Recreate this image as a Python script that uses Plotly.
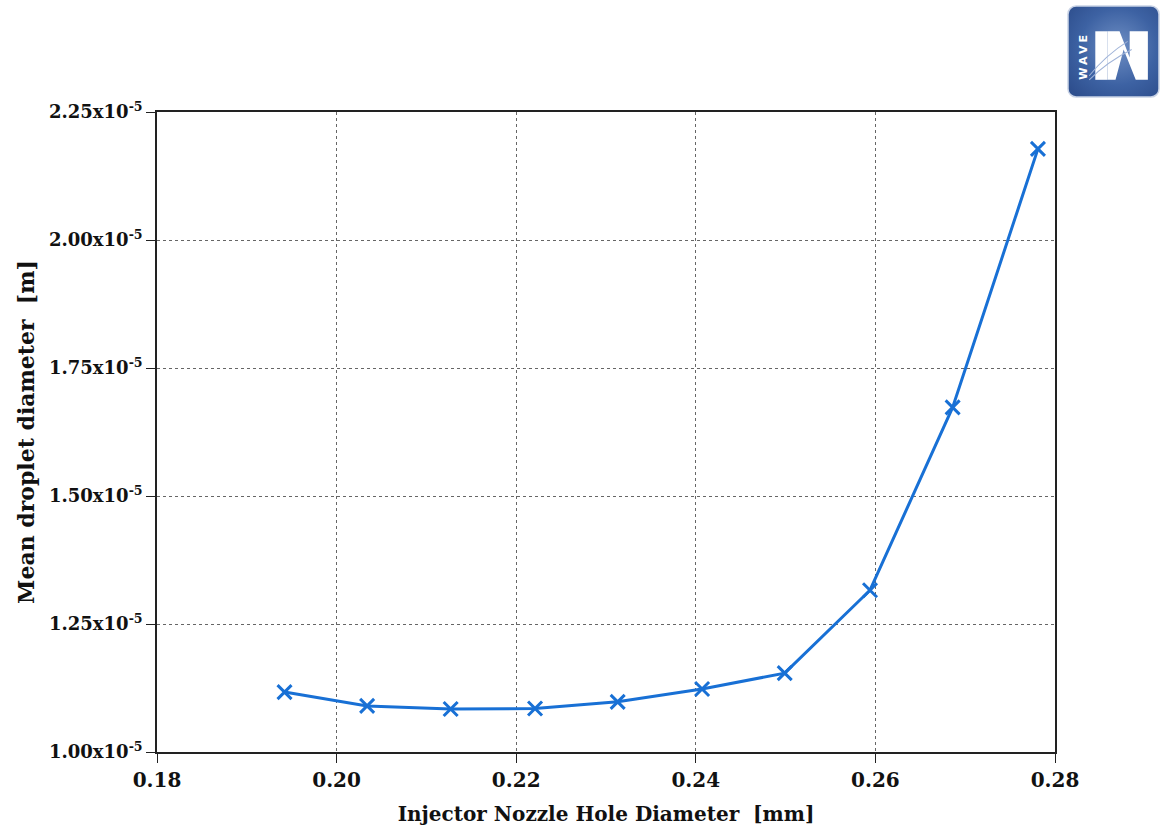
import base64
import plotly.graph_objects as go

# Injector nozzle hole diameter [mm] vs. mean droplet diameter [m]
nozzle_diameter_mm = [0.1942, 0.2034, 0.2127, 0.2221, 0.2313, 0.2407, 0.2499, 0.2594, 0.2686, 0.2781]
mean_droplet_m = [1.117e-5, 1.090e-5, 1.084e-5, 1.085e-5, 1.098e-5, 1.123e-5, 1.154e-5,
                  1.316e-5, 1.673e-5, 2.178e-5]

x_ticks = [0.18, 0.20, 0.22, 0.24, 0.26, 0.28]
x_tick_text = ["0.18", "0.20", "0.22", "0.24", "0.26", "0.28"]
y_ticks = [1.00e-5, 1.25e-5, 1.50e-5, 1.75e-5, 2.00e-5, 2.25e-5]
y_tick_text = ["1.00x10<sup>-5</sup>", "1.25x10<sup>-5</sup>", "1.50x10<sup>-5</sup>",
               "1.75x10<sup>-5</sup>", "2.00x10<sup>-5</sup>", "2.25x10<sup>-5</sup>"]

FONT = "DejaVu Serif"
LINE = "#1870d5"
INK = "#111111"

# Plot area in pixels
W, H = 1163, 827
ML, MR, MT, MB = 157, 108, 112, 75
PW, PH = W - ML - MR, H - MT - MB

# Small badge logo for the upper-right corner
logo_svg = """<svg xmlns='http://www.w3.org/2000/svg' width='92' height='92' viewBox='0 0 92 92'>
<defs><radialGradient id='g' cx='0.55' cy='0.45' r='0.7'>
<stop offset='0' stop-color='#6f8fc4'/><stop offset='0.6' stop-color='#3d62a3'/>
<stop offset='1' stop-color='#2e4f8e'/></radialGradient></defs>
<rect x='1' y='1' width='90' height='90' rx='8' fill='url(#g)' stroke='#c9d3e6' stroke-width='1.5'/>
<text x='20' y='74' transform='rotate(-90 20 74)' font-family='DejaVu Sans' font-weight='bold'
 font-size='11' fill='white' letter-spacing='3'>WAVE</text>
<rect x='28' y='26' width='12' height='48' fill='white'/>
<path d='M40 74 L40 26 L52 26 L62 52 L62 26 L80 26 L80 74 L68 74 L56 44 L48 74 Z' fill='white'/>
<path d='M22 70 Q38 50 60 36' stroke='#9fb3d8' stroke-width='1' fill='none'/>
<path d='M22 74 Q40 56 64 44' stroke='#9fb3d8' stroke-width='1' fill='none'/>
</svg>"""
logo_uri = "data:image/svg+xml;base64," + base64.b64encode(logo_svg.encode()).decode()

fig = go.Figure()
fig.add_trace(go.Scatter(
    x=nozzle_diameter_mm,
    y=mean_droplet_m,
    mode="lines+markers",
    line=dict(color=LINE, width=3),
    marker=dict(symbol="x-thin", size=14, line=dict(color=LINE, width=3), color=LINE),
    showlegend=False,
))

axis_common = dict(
    showline=True, linecolor="#222222", linewidth=1.5, mirror=True,
    ticks="outside", ticklen=9, tickcolor="#222222", tickwidth=1,
    showgrid=True, gridcolor="#666666", gridwidth=1, griddash="dot",
    zeroline=False, automargin=False,
)

fig.update_layout(
    width=W, height=H,
    margin=dict(l=ML, r=MR, t=MT, b=MB),
    paper_bgcolor="white", plot_bgcolor="white",
    xaxis=dict(
        range=[0.18, 0.28], tickvals=x_ticks, ticktext=x_tick_text,
        tickfont=dict(family=FONT, size=20, color=INK, weight="bold"),
        title=dict(text="Injector Nozzle Hole Diameter\u00a0\u00a0[mm]", standoff=16,
                   font=dict(family=FONT, size=20, color=INK, weight="bold")),
        **axis_common,
    ),
    yaxis=dict(
        range=[1.0e-5, 2.25e-5], tickvals=y_ticks, ticktext=y_tick_text,
        tickfont=dict(family=FONT, size=18, color=INK, weight="bold"),
        title=dict(text="Mean droplet diameter\u00a0\u00a0[m]", standoff=8,
                   font=dict(family=FONT, size=22, color=INK, weight="bold")),
        **axis_common,
    ),
    images=[dict(source=logo_uri, xref="paper", yref="paper",
                 x=(1067 - ML) / PW, y=(H - 5 - MB) / PH,
                 sizex=93 / PW, sizey=93 / PH, xanchor="left", yanchor="top",
                 sizing="stretch", layer="above")],
)

fig.write_html("out.html")
